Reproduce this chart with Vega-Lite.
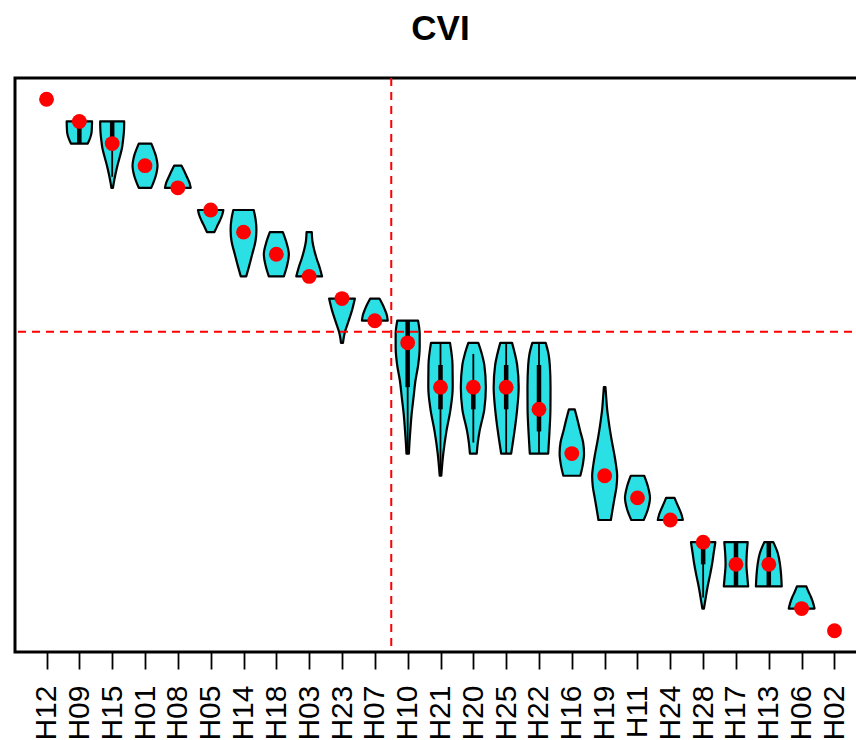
{
  "$schema": "https://vega.github.io/schema/vega-lite/v6.json",
  "width": 851,
  "height": 574,
  "autosize": {"type": "none"},
  "padding": {"left": 15, "top": 78, "right": -10, "bottom": 88},
  "title": {"text": "CVI", "fontSize": 35, "font": "Liberation Sans", "fontWeight": "bold", "color": "black", "anchor": "middle", "baseline": "alphabetic", "offset": 2},
  "config": {"view": {"stroke": "black", "strokeWidth": 3}},
  "datasets": {
    "violin": [
      {"c":"H09","r":2,"lo":1.613,"hi":2.387},{"c":"H09","r":2.5,"lo":1.628,"hi":2.372},{"c":"H09","r":2.75,"lo":1.671,"hi":2.329},{"c":"H09","r":3,"lo":1.744,"hi":2.256},
      {"c":"H15","r":2,"lo":2.634,"hi":3.366},{"c":"H15","r":2.4,"lo":2.640,"hi":3.360},{"c":"H15","r":2.8,"lo":2.665,"hi":3.335},{"c":"H15","r":3.2,"lo":2.701,"hi":3.299},{"c":"H15","r":3.6,"lo":2.768,"hi":3.232},{"c":"H15","r":4,"lo":2.841,"hi":3.159},{"c":"H15","r":4.4,"lo":2.902,"hi":3.098},{"c":"H15","r":4.8,"lo":2.954,"hi":3.046},{"c":"H15","r":5,"lo":2.976,"hi":3.024},
      {"c":"H01","r":3,"lo":3.811,"hi":4.189},{"c":"H01","r":3.25,"lo":3.741,"hi":4.259},{"c":"H01","r":3.5,"lo":3.680,"hi":4.320},{"c":"H01","r":3.75,"lo":3.640,"hi":4.360},{"c":"H01","r":4,"lo":3.619,"hi":4.381},{"c":"H01","r":4.25,"lo":3.640,"hi":4.360},{"c":"H01","r":4.5,"lo":3.680,"hi":4.320},{"c":"H01","r":4.75,"lo":3.741,"hi":4.259},{"c":"H01","r":5,"lo":3.811,"hi":4.189},
      {"c":"H08","r":4,"lo":4.887,"hi":5.113},{"c":"H08","r":4.25,"lo":4.802,"hi":5.198},{"c":"H08","r":4.5,"lo":4.726,"hi":5.274},{"c":"H08","r":4.75,"lo":4.649,"hi":5.351},{"c":"H08","r":5,"lo":4.607,"hi":5.393},
      {"c":"H05","r":6,"lo":5.613,"hi":6.387},{"c":"H05","r":6.25,"lo":5.655,"hi":6.345},{"c":"H05","r":6.5,"lo":5.726,"hi":6.274},{"c":"H05","r":6.75,"lo":5.808,"hi":6.192},{"c":"H05","r":7,"lo":5.887,"hi":6.113},
      {"c":"H14","r":6,"lo":6.689,"hi":7.311},{"c":"H14","r":6.4,"lo":6.634,"hi":7.366},{"c":"H14","r":6.9,"lo":6.607,"hi":7.393},{"c":"H14","r":7.4,"lo":6.634,"hi":7.366},{"c":"H14","r":8,"lo":6.735,"hi":7.265},{"c":"H14","r":8.5,"lo":6.823,"hi":7.177},{"c":"H14","r":9,"lo":6.918,"hi":7.082},
      {"c":"H18","r":7,"lo":7.802,"hi":8.198},{"c":"H18","r":7.5,"lo":7.686,"hi":8.314},{"c":"H18","r":8,"lo":7.619,"hi":8.381},{"c":"H18","r":8.5,"lo":7.671,"hi":8.329},{"c":"H18","r":9,"lo":7.771,"hi":8.229},
      {"c":"H03","r":7,"lo":8.921,"hi":9.079},{"c":"H03","r":7.4,"lo":8.902,"hi":9.098},{"c":"H03","r":7.8,"lo":8.848,"hi":9.152},{"c":"H03","r":8.2,"lo":8.771,"hi":9.229},{"c":"H03","r":8.6,"lo":8.680,"hi":9.320},{"c":"H03","r":9,"lo":8.607,"hi":9.393},
      {"c":"H23","r":10,"lo":9.607,"hi":10.393},{"c":"H23","r":10.5,"lo":9.689,"hi":10.311},{"c":"H23","r":11,"lo":9.796,"hi":10.204},{"c":"H23","r":11.5,"lo":9.909,"hi":10.091},{"c":"H23","r":11.75,"lo":9.945,"hi":10.055},{"c":"H23","r":12,"lo":9.970,"hi":10.030},
      {"c":"H07","r":10,"lo":10.860,"hi":11.140},{"c":"H07","r":10.25,"lo":10.771,"hi":11.229},{"c":"H07","r":10.5,"lo":10.695,"hi":11.305},{"c":"H07","r":10.75,"lo":10.634,"hi":11.366},{"c":"H07","r":11,"lo":10.607,"hi":11.393},
      {"c":"H10","r":11,"lo":11.683,"hi":12.317},{"c":"H10","r":11.6,"lo":11.634,"hi":12.366},{"c":"H10","r":12.2,"lo":11.634,"hi":12.366},{"c":"H10","r":13,"lo":11.680,"hi":12.320},{"c":"H10","r":13.7,"lo":11.762,"hi":12.238},{"c":"H10","r":14.45,"lo":11.820,"hi":12.180},{"c":"H10","r":15.2,"lo":11.878,"hi":12.122},{"c":"H10","r":16,"lo":11.921,"hi":12.079},{"c":"H10","r":16.5,"lo":11.945,"hi":12.055},{"c":"H10","r":17,"lo":11.963,"hi":12.037},
      {"c":"H21","r":12,"lo":12.710,"hi":13.290},{"c":"H21","r":13,"lo":12.634,"hi":13.366},{"c":"H21","r":14,"lo":12.628,"hi":13.372},{"c":"H21","r":15,"lo":12.695,"hi":13.305},{"c":"H21","r":16,"lo":12.820,"hi":13.180},{"c":"H21","r":17,"lo":12.915,"hi":13.085},{"c":"H21","r":18,"lo":12.976,"hi":13.024},
      {"c":"H20","r":12,"lo":13.848,"hi":14.152},{"c":"H20","r":12.5,"lo":13.741,"hi":14.259},{"c":"H20","r":13,"lo":13.665,"hi":14.335},{"c":"H20","r":14,"lo":13.619,"hi":14.381},{"c":"H20","r":15,"lo":13.665,"hi":14.335},{"c":"H20","r":16,"lo":13.811,"hi":14.189},{"c":"H20","r":16.5,"lo":13.863,"hi":14.137},{"c":"H20","r":17,"lo":13.896,"hi":14.104},
      {"c":"H25","r":12,"lo":14.820,"hi":15.180},{"c":"H25","r":13,"lo":14.665,"hi":15.335},{"c":"H25","r":14,"lo":14.619,"hi":15.381},{"c":"H25","r":15,"lo":14.665,"hi":15.335},{"c":"H25","r":16,"lo":14.747,"hi":15.253},{"c":"H25","r":17,"lo":14.848,"hi":15.152},
      {"c":"H22","r":12,"lo":15.796,"hi":16.204},{"c":"H22","r":12.5,"lo":15.710,"hi":16.290},{"c":"H22","r":13,"lo":15.671,"hi":16.329},{"c":"H22","r":14,"lo":15.649,"hi":16.351},{"c":"H22","r":15,"lo":15.652,"hi":16.348},{"c":"H22","r":16,"lo":15.680,"hi":16.320},{"c":"H22","r":17,"lo":15.720,"hi":16.280},
      {"c":"H16","r":15,"lo":16.912,"hi":17.088},{"c":"H16","r":15.5,"lo":16.823,"hi":17.177},{"c":"H16","r":16,"lo":16.741,"hi":17.259},{"c":"H16","r":16.5,"lo":16.655,"hi":17.345},{"c":"H16","r":17,"lo":16.628,"hi":17.372},{"c":"H16","r":17.5,"lo":16.665,"hi":17.335},{"c":"H16","r":18,"lo":16.741,"hi":17.259},
      {"c":"H19","r":14,"lo":17.976,"hi":18.024},{"c":"H19","r":14.5,"lo":17.951,"hi":18.049},{"c":"H19","r":15,"lo":17.924,"hi":18.076},{"c":"H19","r":15.5,"lo":17.881,"hi":18.119},{"c":"H19","r":16,"lo":17.832,"hi":18.168},{"c":"H19","r":16.5,"lo":17.774,"hi":18.226},{"c":"H19","r":17,"lo":17.710,"hi":18.290},{"c":"H19","r":17.5,"lo":17.655,"hi":18.345},{"c":"H19","r":18,"lo":17.619,"hi":18.381},{"c":"H19","r":18.5,"lo":17.640,"hi":18.360},{"c":"H19","r":19,"lo":17.698,"hi":18.302},{"c":"H19","r":19.5,"lo":17.756,"hi":18.244},{"c":"H19","r":20,"lo":17.811,"hi":18.189},
      {"c":"H11","r":18,"lo":18.796,"hi":19.204},{"c":"H11","r":18.5,"lo":18.680,"hi":19.320},{"c":"H11","r":19,"lo":18.619,"hi":19.381},{"c":"H11","r":19.5,"lo":18.680,"hi":19.320},{"c":"H11","r":20,"lo":18.811,"hi":19.189},
      {"c":"H24","r":19,"lo":19.872,"hi":20.128},{"c":"H24","r":19.25,"lo":19.802,"hi":20.198},{"c":"H24","r":19.5,"lo":19.726,"hi":20.274},{"c":"H24","r":19.75,"lo":19.659,"hi":20.341},{"c":"H24","r":20,"lo":19.619,"hi":20.381},
      {"c":"H28","r":21,"lo":20.628,"hi":21.372},{"c":"H28","r":21.5,"lo":20.680,"hi":21.320},{"c":"H28","r":22,"lo":20.729,"hi":21.271},{"c":"H28","r":22.5,"lo":20.793,"hi":21.207},{"c":"H28","r":23,"lo":20.863,"hi":21.137},{"c":"H28","r":23.5,"lo":20.921,"hi":21.079},{"c":"H28","r":24,"lo":20.976,"hi":21.024},
      {"c":"H17","r":21,"lo":21.643,"hi":22.357},{"c":"H17","r":21.5,"lo":21.671,"hi":22.329},{"c":"H17","r":22,"lo":21.683,"hi":22.317},{"c":"H17","r":22.5,"lo":21.659,"hi":22.341},{"c":"H17","r":23,"lo":21.628,"hi":22.372},
      {"c":"H13","r":21,"lo":22.863,"hi":23.137},{"c":"H13","r":21.5,"lo":22.726,"hi":23.274},{"c":"H13","r":22,"lo":22.659,"hi":23.341},{"c":"H13","r":22.5,"lo":22.625,"hi":23.375},{"c":"H13","r":23,"lo":22.607,"hi":23.393},
      {"c":"H06","r":23,"lo":23.857,"hi":24.143},{"c":"H06","r":23.25,"lo":23.787,"hi":24.213},{"c":"H06","r":23.5,"lo":23.710,"hi":24.290},{"c":"H06","r":23.75,"lo":23.649,"hi":24.351},{"c":"H06","r":24,"lo":23.607,"hi":24.393}
    ],
    "stats": [
      {"c":"H12","i":1,"med":1,"q1":1,"q3":1,"wlo":1,"whi":1},
      {"c":"H09","i":2,"med":2,"q1":2,"q3":3,"wlo":2,"whi":3},
      {"c":"H15","i":3,"med":3,"q1":2,"q3":3,"wlo":2,"whi":4.5},
      {"c":"H01","i":4,"med":4,"q1":4,"q3":4,"wlo":4,"whi":4},
      {"c":"H08","i":5,"med":5,"q1":5,"q3":5,"wlo":5,"whi":5},
      {"c":"H05","i":6,"med":6,"q1":6,"q3":6,"wlo":6,"whi":6},
      {"c":"H14","i":7,"med":7,"q1":7,"q3":7,"wlo":7,"whi":7},
      {"c":"H18","i":8,"med":8,"q1":8,"q3":8,"wlo":8,"whi":8},
      {"c":"H03","i":9,"med":9,"q1":9,"q3":9,"wlo":9,"whi":9},
      {"c":"H23","i":10,"med":10,"q1":10,"q3":10,"wlo":10,"whi":10},
      {"c":"H07","i":11,"med":11,"q1":11,"q3":11,"wlo":11,"whi":11},
      {"c":"H10","i":12,"med":12,"q1":11,"q3":14,"wlo":11,"whi":17},
      {"c":"H21","i":13,"med":14,"q1":13,"q3":15,"wlo":12,"whi":18},
      {"c":"H20","i":14,"med":14,"q1":14,"q3":15,"wlo":12.5,"whi":16.5},
      {"c":"H25","i":15,"med":14,"q1":13,"q3":15,"wlo":12,"whi":17},
      {"c":"H22","i":16,"med":15,"q1":13,"q3":16,"wlo":12,"whi":17},
      {"c":"H16","i":17,"med":17,"q1":17,"q3":17,"wlo":17,"whi":17},
      {"c":"H19","i":18,"med":18,"q1":18,"q3":18,"wlo":18,"whi":18},
      {"c":"H11","i":19,"med":19,"q1":19,"q3":19,"wlo":19,"whi":19},
      {"c":"H24","i":20,"med":20,"q1":20,"q3":20,"wlo":20,"whi":20},
      {"c":"H28","i":21,"med":21,"q1":21,"q3":22,"wlo":21,"whi":23.5},
      {"c":"H17","i":22,"med":22,"q1":21,"q3":23,"wlo":21,"whi":23},
      {"c":"H13","i":23,"med":22,"q1":21,"q3":23,"wlo":21,"whi":23},
      {"c":"H06","i":24,"med":24,"q1":24,"q3":24,"wlo":24,"whi":24},
      {"c":"H02","i":25,"med":25,"q1":25,"q3":25,"wlo":25,"whi":25}
    ]
  },
  "layer": [
    {
      "data": {"name": "violin"},
      "mark": {"type": "area", "orient": "horizontal", "interpolate": "monotone", "fill": "#2ae0e4", "stroke": "black", "strokeWidth": 2.2, "strokeJoin": "round"},
      "encoding": {
        "x": {"field": "lo", "type": "quantitative", "scale": {"domain": [0.04, 25.96], "nice": false, "zero": false},
              "axis": {"values": [1,2,3,4,5,6,7,8,9,10,11,12,13,14,15,16,17,18,19,20,21,22,23,24,25],
                       "tickCount": 30,
                       "labelExpr": "['H12','H09','H15','H01','H08','H05','H14','H18','H03','H23','H07','H10','H21','H20','H25','H22','H16','H19','H11','H24','H28','H17','H13','H06','H02'][datum.value - 1]",
                       "title": null, "domain": false, "grid": false, "tickSize": 17, "tickWidth": 1.8, "tickColor": "black",
                       "labelAngle": -90, "labelFont": "Liberation Sans", "labelFontSize": 30, "labelColor": "black", "labelPadding": 16,
                       "labelOverlap": false, "labelFlush": false, "labelBound": false}},
        "x2": {"field": "hi"},
        "y": {"field": "r", "type": "quantitative", "scale": {"domain": [0.04, 25.96], "reverse": true, "nice": false, "zero": false}, "axis": null},
        "detail": {"field": "c"}
      }
    },
    {
      "data": {"name": "stats"},
      "mark": {"type": "rule", "stroke": "black", "strokeWidth": 1.8},
      "encoding": {
        "x": {"field": "i", "type": "quantitative"},
        "y": {"field": "wlo", "type": "quantitative", "axis": null},
        "y2": {"field": "whi"}
      }
    },
    {
      "data": {"name": "stats"},
      "mark": {"type": "rule", "stroke": "black", "strokeWidth": 4.5, "strokeCap": "butt"},
      "encoding": {
        "x": {"field": "i", "type": "quantitative"},
        "y": {"field": "q1", "type": "quantitative", "axis": null},
        "y2": {"field": "q3"}
      }
    },
    {
      "data": {"name": "stats"},
      "mark": {"type": "point", "filled": true, "shape": "circle", "size": 220, "color": "#ff0000", "opacity": 1, "strokeWidth": 0},
      "encoding": {
        "x": {"field": "i", "type": "quantitative"},
        "y": {"field": "med", "type": "quantitative", "axis": null}
      }
    },
    {
      "data": {"values": [{"r": 11.5}]},
      "mark": {"type": "rule", "stroke": "#ff0000", "strokeWidth": 2, "strokeDash": [8, 6]},
      "encoding": {"y": {"field": "r", "type": "quantitative", "axis": null}}
    },
    {
      "data": {"values": [{"i": 11.5}]},
      "mark": {"type": "rule", "stroke": "#ff0000", "strokeWidth": 2, "strokeDash": [8, 6]},
      "encoding": {"x": {"field": "i", "type": "quantitative"}}
    }
  ]
}
